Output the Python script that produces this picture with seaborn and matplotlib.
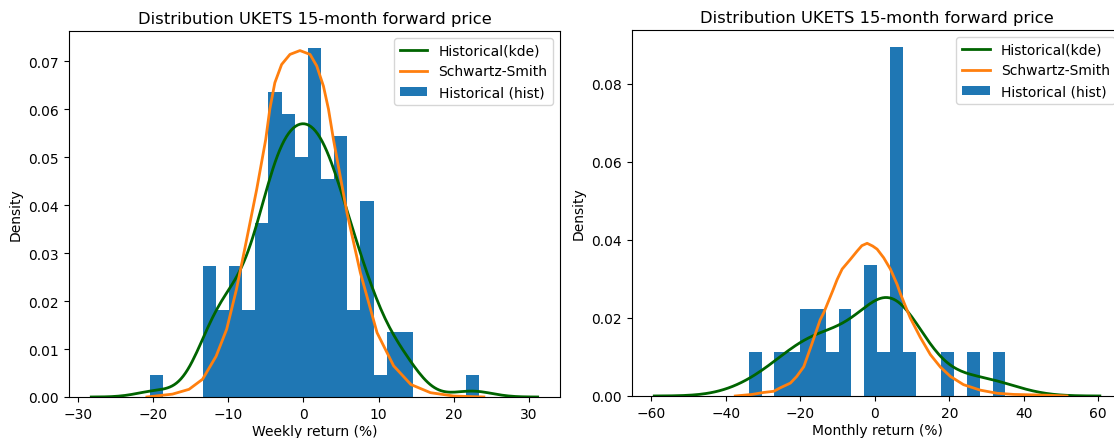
import numpy as np
import matplotlib
matplotlib.use("Agg")
import matplotlib.pyplot as plt
from matplotlib.patches import Patch
import seaborn as sns

# ---- Weekly returns (%): histogram bins and counts ----
weekly_bin_start = -20.37
weekly_bin_width = 1.748
weekly_counts = [1, 0, 0, 0, 6, 4, 6, 4, 8, 14, 13, 11, 16, 10, 12, 4, 9, 1, 3, 3,
                 0, 0, 0, 0, 1]

# ---- Monthly returns (%): histogram bins and counts ----
monthly_bin_start = -33.89
monthly_bin_width = 3.447
monthly_counts = [1, 0, 1, 1, 2, 2, 1, 2, 0, 3, 1, 8, 1, 0, 0, 1, 0, 1, 0, 1]

# ---- Schwartz-Smith model densities ----
ss_weekly_x = [-20.8, -17.4, -15.2, -13.4, -11.6, -10.2, -8.9, -7.8, -6.2, -5.0,
               -4.46, -3.79, -2.89, -1.78, -0.45, 0.89, 1.78, 2.67, 3.34, 4.0,
               5.8, 7.58, 9.8, 12.0, 14.3, 16.9, 20.0, 24.0]
ss_weekly_y = [0.0000, 0.0006, 0.0016, 0.0037, 0.0085, 0.0141, 0.0224, 0.0308, 0.0433, 0.0537,
               0.0600, 0.0655, 0.0693, 0.0714, 0.0722, 0.0714, 0.0690, 0.0648, 0.0600, 0.0537,
               0.0384, 0.0259, 0.0134, 0.0065, 0.0026, 0.0009, 0.0002, 0.0000]

ss_monthly_x = [-37.5, -33.0, -29.9, -27.2, -25.4, -22.7, -21.0, -19.1, -16.9, -14.7,
                -13.7, -11.3, -10.15, -8.8, -6.58, -4.78, -3.5, -2.09, -0.6, 0.6,
                2.36, 4.16, 5.96, 6.85, 8.2, 9.5, 12.2, 14.9, 17.6, 20.3,
                23.8, 28.3, 32.8, 37.3, 46.3, 51.6]
ss_monthly_y = [0.0000, 0.0004, 0.0009, 0.0012, 0.0021, 0.0033, 0.0050, 0.0075, 0.0134, 0.0195,
                0.0214, 0.0270, 0.0298, 0.0325, 0.0350, 0.0371, 0.0385, 0.0391, 0.0384, 0.0376,
                0.0354, 0.0325, 0.0286, 0.0262, 0.0230, 0.0200, 0.0150, 0.0106, 0.0074, 0.0050,
                0.0029, 0.0015, 0.0007, 0.0004, 0.0002, 0.0000]

title = "Distribution UKETS 15-month forward price"
KDE_COLOR = "#006400"
SS_COLOR = "#ff7f0e"
HIST_COLOR = "#1f77b4"


def returns_from_counts(start, width, counts):
    counts = np.asarray(counts)
    edges = start + width * np.arange(len(counts) + 1)
    centers = 0.5 * (edges[:-1] + edges[1:])
    return edges, np.repeat(centers, counts)


def draw_panel(ax, start, width, counts, ss_x, ss_y, xlabel):
    edges, samples = returns_from_counts(start, width, counts)
    sns.histplot(x=samples, bins=edges, stat="density", color=HIST_COLOR,
                 alpha=1.0, linewidth=0, edgecolor=HIST_COLOR, ax=ax, zorder=1)
    sns.kdeplot(x=samples, color=KDE_COLOR, linewidth=2, cut=3.35, ax=ax, zorder=3)
    sns.lineplot(x=ss_x, y=ss_y, color=SS_COLOR, linewidth=2, ax=ax, zorder=3)
    ax.set_title(title, fontsize=11.8)
    ax.set_xlabel(xlabel, fontsize=10, labelpad=2.5)
    ax.set_ylabel("Density", fontsize=10)
    ax.tick_params(labelsize=10)
    ax.set_ylim(bottom=0)
    handles = [
        plt.Line2D([], [], color=KDE_COLOR, linewidth=2),
        plt.Line2D([], [], color=SS_COLOR, linewidth=2),
        Patch(facecolor=HIST_COLOR),
    ]
    ax.legend(handles, ["Historical(kde)", "Schwartz-Smith", "Historical (hist)"],
              loc="upper right", fontsize=10)


fig = plt.figure(figsize=(11.14, 4.39), dpi=100)
ax1 = fig.add_axes([0.0619, 0.0934, 0.4408, 0.8337])
ax2 = fig.add_axes([0.5673, 0.0957, 0.4400, 0.8337])

draw_panel(ax1, weekly_bin_start, weekly_bin_width, weekly_counts,
           ss_weekly_x, ss_weekly_y, "Weekly return (%)")
draw_panel(ax2, monthly_bin_start, monthly_bin_width, monthly_counts,
           ss_monthly_x, ss_monthly_y, "Monthly return (%)")

fig.savefig("out.png", dpi=100)
